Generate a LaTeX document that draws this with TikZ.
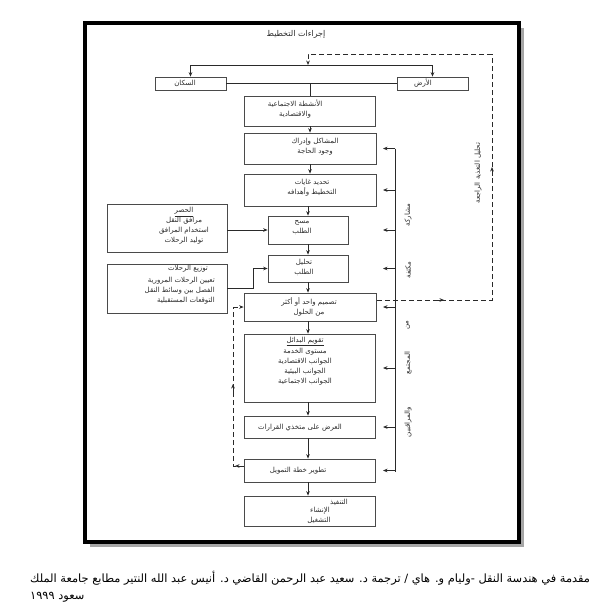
\documentclass[tikz,border=0pt]{standalone}
\usepackage{fontspec}
\TeXXeTstate=1
\newfontfamily\arfont[Script=Arabic]{DejaVu Sans}
\usetikzlibrary{arrows.meta}
\newcommand{\AR}[1]{\beginR #1\endR}
\definecolor{ink}{HTML}{2A2A2A}
\definecolor{boxc}{HTML}{4A4A4A}
\begin{document}
\begin{tikzpicture}[x=1pt,y=-1pt,
  ln/.style={draw=ink, line width=0.75pt},
  box/.style={draw=boxc, line width=0.75pt, inner sep=0pt, fill=white},
  txt/.style={font=\arfont\fontsize{7}{10}\selectfont, text=ink, inner sep=0pt, align=center},
  txr/.style={txt, align=right},
  arr/.style={ln, -{Stealth[length=4.5pt,width=3.6pt]}},
  dsh/.style={ln, dash pattern=on 5pt off 3pt},
  darr/.style={dsh, -{Stealth[length=4.5pt,width=3.6pt]}},
  lbl/.style={txt, rotate=90},
  captxt/.style={font=\arfont\fontsize{11.4}{13}\selectfont, text=black, inner sep=0pt, anchor=west},
]
\useasboundingbox (0,0) rectangle (606,608);
% frame
\draw[black!35, line width=3pt] (522,28) -- (522,545.5) -- (90,545.5);
\draw[black, line width=4pt] (85,23) rectangle (519,542);
\node[txt, font=\arfont\fontsize{8}{9}\selectfont] (title) at (296,34) {\AR{إجراءات التخطيط}};
% boxes
\node[box, minimum width=71, minimum height=13] (pop) at (190.5,83.5) {};
\node[box, minimum width=71, minimum height=13] (land) at (432.5,83.5) {};
\node[box, minimum width=131, minimum height=30] (act) at (310,111) {};
\node[box, minimum width=132, minimum height=31] (prob) at (310,148.5) {};
\node[box, minimum width=132, minimum height=32] (goals) at (310,190) {};
\node[box, minimum width=80, minimum height=28] (survey) at (308,230) {};
\node[box, minimum width=80, minimum height=27] (analysis) at (308,268.5) {};
\node[box, minimum width=132, minimum height=28] (design) at (310,307) {};
\node[box, minimum width=131, minimum height=68] (eval) at (309.5,368) {};
\node[box, minimum width=131, minimum height=22] (present) at (309.5,427) {};
\node[box, minimum width=131, minimum height=23] (finance) at (309.5,470.5) {};
\node[box, minimum width=131, minimum height=30] (impl) at (309.5,511) {};
\node[box, minimum width=120, minimum height=48] (inv) at (167,228) {};
\node[box, minimum width=120, minimum height=49] (dist) at (167,288.5) {};
% texts
\node[txt] (popt) at (185,83.5) {\AR{السكان}};
\node[txt] (landt) at (423,83.5) {\AR{الأرض}};
\node[txt] (actt) at (295,109) {\AR{الأنشطة الاجتماعية}\\\AR{والاقتصادية}};
\node[txt] (probt) at (315,146.5) {\AR{المشاكل وإدراك}\\\AR{وجود الحاجة}};
\node[txt] (goalst) at (312,188) {\AR{تحديد غايات}\\\AR{التخطيط وأهدافه}};
\node[txt] (surveyt) at (302,228) {\AR{مسح}\\\AR{الطلب}};
\node[txt] (analysist) at (304,267.5) {\AR{تحليل}\\\AR{الطلب}};
\node[txt] (designt) at (309,307) {\AR{تصميم واحد أو أكثر}\\\AR{من الحلول}};
\node[txt] (evalt) at (305,361) {\underline{\AR{تقويم البدائل}}\\[1.5pt]\AR{مستوى الخدمة}\\\AR{الجوانب الاقتصادية}\\\AR{الجوانب البيئية}\\\AR{الجوانب الاجتماعية}};
\node[txt] (presentt) at (300,428) {\AR{العرض على متخذي القرارات}};
\node[txt] (financet) at (298,471) {\AR{تطوير خطة التمويل}};
\node[txt] (implt1) at (339,502) {\AR{التنفيذ}};
\node[txt] (implt2) at (320,511) {\AR{الإنشاء}};
\node[txt] (implt3) at (319,520) {\AR{التشغيل}};
\node[txt] (invt) at (184,226) {\underline{\AR{الحصر}}\\\AR{مرافق النقل}\\\AR{استخدام المرافق}\\\AR{توليد الرحلات}};
\node[txt] (distt1) at (188,269) {\AR{توزيع الرحلات}};
\node[txr, anchor=east] (distt2) at (215,291) {\AR{تعيين الرحلات المرورية}\\\AR{الفصل بين وسائط النقل}\\\AR{التوقعات المستقبلية}};
% top connectors
\coordinate (tl) at (190.5,65);
\coordinate (tr) at (432.5,65);
\coordinate (tm) at (308,65);
\coordinate (jm) at (310,83.5);
\draw[ln] (tl) -- (tr);
\draw[arr] (tl) -- (pop.north);
\draw[arr] (tr) -- (land.north);
\draw[ln] (pop.east) -- (land.west);
\draw[ln] (jm) -- (act.north);
% main chain
\draw[arr] (act.south) -- (prob.north);
\draw[arr] (prob.south) -- (goals.south |- goals.north);
\draw[arr] (goals.south -| survey.north) -- (survey.north);
\draw[arr] (survey.south) -- (analysis.north);
\draw[arr] (analysis.south) -- (analysis.south |- design.north);
\draw[arr] (design.south -| analysis.south) -- (analysis.south |- eval.north);
\draw[arr] (eval.south -| analysis.south) -- (analysis.south |- present.north);
\draw[arr] (present.south -| analysis.south) -- (analysis.south |- finance.north);
\draw[arr] (finance.south -| analysis.south) -- (analysis.south |- impl.north);
% left inputs
\draw[arr] (inv.east |- survey.west) -- (survey.west);
\coordinate (dk) at (253,288.5);
\draw[arr] (dist.east) -- (dk) |- (analysis.west);
% right solid feedback
\coordinate (fbt) at (395,148.5);
\coordinate (fbb) at (395,471.5);
\draw[ln] (fbt) -- (fbb);
\foreach \b in {prob,goals,survey,analysis,design,eval,present,finance}
  \draw[arr] (fbt |- \b.east) -- ++(-12,0);
% rotated labels
\node[lbl] (l1) at (408,215) {\AR{مشاركة}};
\node[lbl] (l2) at (408,270) {\AR{مكثفة}};
\node[lbl] (l3) at (408,325) {\AR{من}};
\node[lbl] (l4) at (408,363) {\AR{المجتمع}};
\node[lbl] (l5) at (408,422) {\AR{والمراقبين}};
\node[lbl] (fbl) at (478,173) {\AR{تحليل التغذية الراجعة}};
% dashed feedback (right)
\coordinate (dout) at (377,300);
\coordinate (rc) at (492,54);
\draw[dsh] (dout) -| (rc);
\draw[darr] (rc) -| (tm);
\draw[arr] (436,300) -- (444,300);
\draw[arr] (492,176) -- (492,167);
% dashed loop (left)
\coordinate (lb) at (233,466);
\coordinate (lt) at (233,307);
\coordinate (lbs) at (244,466);
\draw[dsh] (lbs) -- (lb) -- (lt);
\draw[darr] (lt) -- (design.west);
\draw[arr] (233,392) -- (233,384);
\draw[arr] (242,466) -- (235,466);
% caption
\node[captxt] (c1) at (30,578) {\AR{مقدمة في هندسة النقل -وليام و. هاي / ترجمة د. سعيد عبد الرحمن القاضي د. أنيس عبد الله النتير مطابع جامعة الملك}};
\node[captxt] (c2) at (30,597) {\AR{سعود ١٩٩٩}};
\end{tikzpicture}
\end{document}
